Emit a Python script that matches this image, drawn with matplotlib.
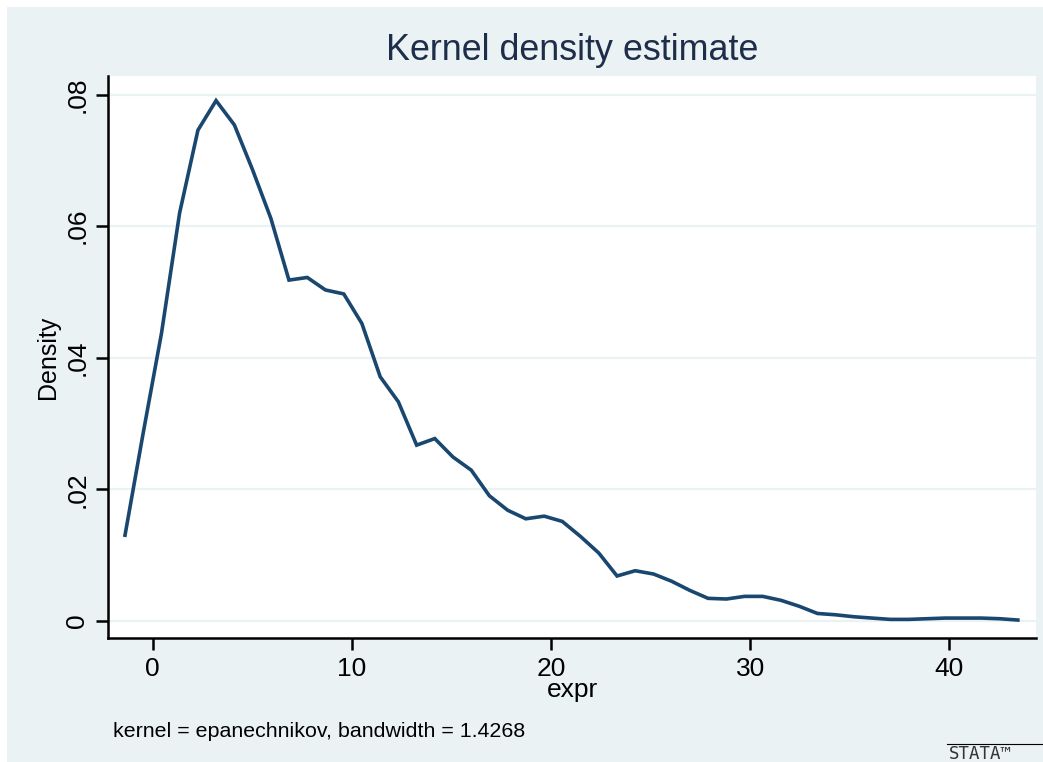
import matplotlib
matplotlib.use("Agg")
import matplotlib.pyplot as plt
from matplotlib.patches import Rectangle
from matplotlib.lines import Line2D

# kernel density estimate of expr (50 grid points)
expr = [-1.38, -0.47, 0.45, 1.36, 2.28, 3.19, 4.11, 5.02, 5.94, 6.85,
        7.77, 8.68, 9.60, 10.51, 11.43, 12.34, 13.26, 14.17, 15.08, 16.00,
        16.91, 17.83, 18.74, 19.66, 20.57, 21.49, 22.40, 23.32, 24.23, 25.15,
        26.06, 26.98, 27.89, 28.81, 29.72, 30.63, 31.55, 32.46, 33.38, 34.29,
        35.21, 36.12, 37.04, 37.95, 38.87, 39.78, 40.70, 41.61, 42.53, 43.44]
density = [0.0130, 0.0285, 0.0437, 0.0620, 0.0746, 0.0791, 0.0754, 0.0686, 0.0612, 0.0518,
           0.0522, 0.0503, 0.0497, 0.0452, 0.0371, 0.0333, 0.0267, 0.0277, 0.0249, 0.0229,
           0.0190, 0.0168, 0.0155, 0.0159, 0.0151, 0.0128, 0.0103, 0.0068, 0.0076, 0.0071,
           0.0060, 0.0046, 0.0034, 0.0033, 0.0037, 0.0037, 0.0031, 0.0022, 0.0011, 0.0009,
           0.0006, 0.0004, 0.0002, 0.0002, 0.0003, 0.0004, 0.0004, 0.0004, 0.0003, 0.0001]

x_ticks = [0, 10, 20, 30, 40]
y_ticks = [0, 0.02, 0.04, 0.06, 0.08]
y_tick_labels = ["0", ".02", ".04", ".06", ".08"]

BG = "#eaf2f3"
LINE = "#1a476f"
TITLE = "#1e2d4a"

plt.rcParams["font.family"] = ["Liberation Sans", "DejaVu Sans"]

fig = plt.figure(figsize=(10.43, 7.62), dpi=100, facecolor="white")
# outer graph region (small white margin top/left like the export)
fig.patches.append(Rectangle((7 / 1043, 0), 1, 1 - 7 / 762, transform=fig.transFigure,
                             facecolor=BG, edgecolor="none", zorder=-10))

ax = fig.add_axes([108 / 1043, 1 - 638 / 762, 928 / 1043, 562 / 762])
ax.set_facecolor("white")
ax.plot(expr, density, color=LINE, lw=2.6, solid_joinstyle="miter")

ax.set_xlim(-2.234, 44.35)
ax.set_ylim(-0.00263, 0.08284)
ax.set_xticks(x_ticks)
ax.set_yticks(y_ticks)
ax.set_yticklabels(y_tick_labels, rotation=90, va="center")
ax.grid(axis="y", color=BG, lw=1.6)
ax.set_axisbelow(True)

for side in ["top", "right"]:
    ax.spines[side].set_visible(False)
for side in ["left", "bottom"]:
    ax.spines[side].set_linewidth(1.8)
ax.tick_params(direction="out", length=8.5, width=1.8, labelsize=19, pad=5)

ax.set_xlabel("expr", fontsize=19, labelpad=-2)
ax.set_ylabel("Density", fontsize=18, labelpad=4)
fig.text(572 / 1043, 1 - 51 / 762, "Kernel density estimate", fontsize=25.8,
         color=TITLE, ha="center", va="center")
fig.text(113 / 1043, 1 - 737 / 762, "kernel = epanechnikov, bandwidth = 1.4268",
         fontsize=15.4, ha="left", va="baseline")

# stata logo in the corner
fig.lines.append(Line2D([947 / 1043, 1], [1 - 744 / 762] * 2, transform=fig.transFigure,
                        color="black", lw=0.8))
fig.text(949 / 1043, 1 - 754 / 762, "STATA\u2122", fontsize=12.5, ha="left", va="center",
         family="DejaVu Sans Mono", color="#333333")

fig.savefig("out.png", dpi=100, facecolor=fig.get_facecolor())
